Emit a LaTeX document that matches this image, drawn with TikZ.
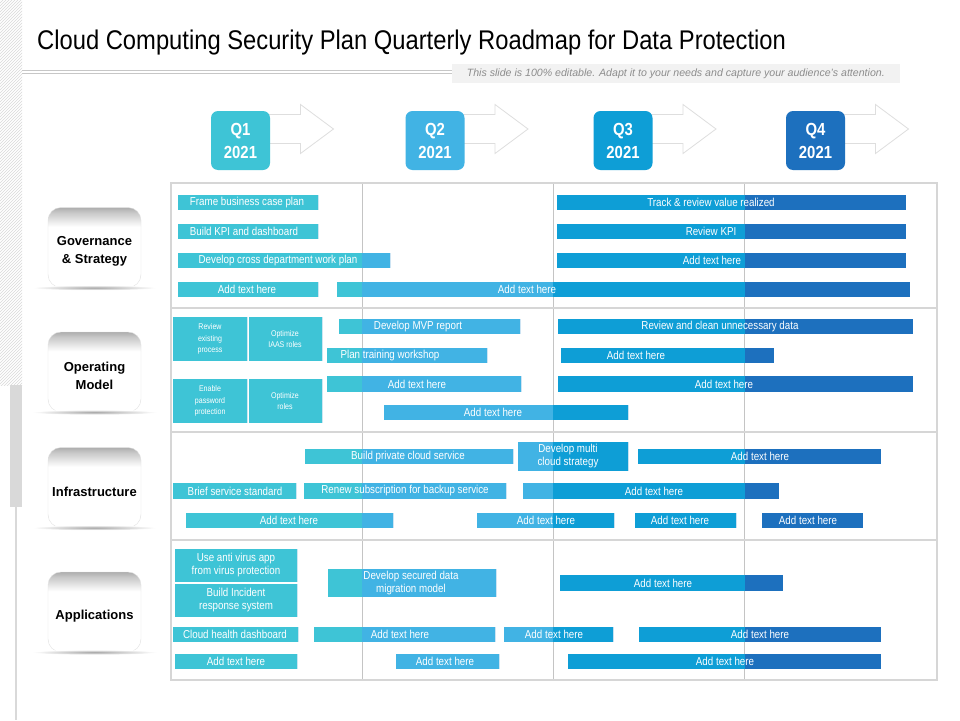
\documentclass[tikz,border=0pt]{standalone}
\usepackage{fontspec}
\setmainfont{Liberation Sans}
\newfontfamily\narrowfont[FakeStretch=0.85]{Liberation Sans}
\newfontfamily\titlefont[FakeStretch=0.88]{Liberation Sans}
\usetikzlibrary{patterns}

\definecolor{qone}{HTML}{3EC4D6}
\definecolor{qtwo}{HTML}{41B3E4}
\definecolor{qthree}{HTML}{0E9ED6}
\definecolor{qfour}{HTML}{1D70BE}
\definecolor{gridgray}{HTML}{D6D6D6}
\definecolor{linegray}{HTML}{C4C4C4}

\pgfdeclareverticalshading{cardshade}{100bp}{color(0bp)=(white); color(25bp)=(white); color(63bp)=(white);
	color(72bp)=(black!22); color(75bp)=(black!32); color(100bp)=(black!32)}

\tikzset{
	bar/.style={rectangle, inner sep=0pt, path picture={
		\fill[qone] (path picture bounding box.south west) rectangle (qb1 |- path picture bounding box.north);
		\fill[qtwo] (qb1 |- path picture bounding box.south) rectangle (qb2 |- path picture bounding box.north);
		\fill[qthree] (qb2 |- path picture bounding box.south) rectangle (qb3 |- path picture bounding box.north);
		\fill[qfour] (qb3 |- path picture bounding box.south) rectangle (path picture bounding box.north east);}},
	bartext/.style={text=white, align=center, inner sep=0pt, font=\narrowfont\fontsize{11.5}{13}\selectfont},
	smalltext/.style={font=\narrowfont\fontsize{8.3}{11.5}\selectfont},
	qbox/.style={rectangle, rounded corners=7pt, minimum size=59pt, inner sep=0pt, text=white, align=center,
		font=\narrowfont\bfseries\fontsize{17.5}{23}\selectfont},
	qarrow/.style={draw=black!13, fill=white, line width=0.8pt},
	card/.style={rectangle, rounded corners=13pt, minimum width=93pt, minimum height=80pt,
		draw=black!12, shading=cardshade},
	cardtext/.style={align=center, inner sep=0pt, font=\bfseries\fontsize{13}{18}\selectfont}
}

\newcommand{\taskbar}[8][]{%
	\node[bar, minimum width={#4-#3}, minimum height={#6-#5}] (#2) at ({(#3+#4)/2},{(#5+#6)/2}) {};
	\node[bartext, #1] (#2-t) at (#7,{(#5+#6)/2}) {#8};}

\begin{document}
\begin{tikzpicture}[x=1pt, y=-1pt]
	\useasboundingbox (0,0) rectangle (960,720);
	\fill[white] (0,0) rectangle (960,720);

	\fill[pattern=north east lines, pattern color=black!15] (0,0) rectangle (22,385);
	\fill[black!15] (10,385) rectangle (22,507);
	\draw[black!15, line width=1.2pt] (16,507) -- (16,720);

	\node[anchor=base west, inner sep=0pt, font=\titlefont\fontsize{27}{30}\selectfont] (title) at (37,49)
		{Cloud Computing Security Plan Quarterly Roadmap for Data Protection};
	\draw[black!22] (22,70) -- (452,70);
	\draw[black!22] (22,73.5) -- (452,73.5);
	\fill[black!5] (452,64) rectangle (900,83);
	\node[anchor=east, inner sep=0pt, text=black!45, font=\itshape\fontsize{10.6}{12}\selectfont] (sub) at (885,73.5)
		{This slide is 100\% editable. Adapt it to your needs and capture your audience's attention.};

	\coordinate (qb1) at (362,0);
	\coordinate (qb2) at (553,0);
	\coordinate (qb3) at (744.5,0);

	\coordinate (q1p) at (240.5,140.5);
	\coordinate (q2p) at (435,140.5);
	\coordinate (q3p) at (623,140.5);
	\coordinate (q4p) at (815.5,140.5);
	\foreach \p in {q1p,q2p,q3p,q4p}
		\draw[qarrow] (\p) ++(0,-26) -- ++(60,0) -- ++(0,-10) -- ++(33,24.5) -- ++(-33,24.5) -- ++(0,-10) -- ++(-60,0) -- cycle;
	\node[qbox, fill=qone] (q1) at (q1p) {Q1\\2021};
	\node[qbox, fill=qtwo] (q2) at (q2p) {Q2\\2021};
	\node[qbox, fill=qthree] (q3) at (q3p) {Q3\\2021};
	\node[qbox, fill=qfour] (q4) at (q4p) {Q4\\2021};

	\draw[linegray, line width=0.8pt] (362,183) -- (362,680);
	\draw[linegray, line width=0.8pt] (553,183) -- (553,680);
	\draw[linegray, line width=0.8pt] (744.5,183) -- (744.5,680);
	\foreach \y in {308,432,540}
		\draw[gridgray, line width=1.2pt] (171,\y) -- (937,\y);
	\draw[gridgray, line width=1.6pt] (171,183) rectangle (937,680);

	\node[card] (gov) at (94.5,247.5) {};
	\node[card] (ops) at (94.5,372) {};
	\node[card] (infra) at (94.5,487.5) {};
	\node[card] (apps) at (94.5,612) {};
	\foreach \c in {gov,ops,infra,apps}
		\shade[inner color=black!35, outer color=white] (\c.south) ellipse (62 and 2.5);
	\node[cardtext] (gov-t) at ([yshift=-4pt]gov.center) {Governance\\\& Strategy};
	\node[cardtext] (ops-t) at ([yshift=-4pt]ops.center) {Operating\\Model};
	\node[cardtext] (infra-t) at ([yshift=-4pt]infra.center) {Infrastructure};
	\node[cardtext] (apps-t) at ([yshift=-4pt]apps.center) {Applications};

	\taskbar{g1}{178}{318}{195}{210}{247}{Frame business case plan}
	\taskbar{g2}{178}{318}{224}{239}{244}{Build KPI and dashboard}
	\taskbar{g3}{178}{390}{253}{268}{278}{Develop cross department work plan}
	\taskbar{g4}{178}{318}{282}{297}{247}{Add text here}
	\taskbar{g5}{337}{910}{282}{297}{527}{Add text here}
	\taskbar{g6}{557}{906}{195}{210}{711}{Track \& review value realized}
	\taskbar{g7}{557}{906}{224}{239}{711}{Review KPI}
	\taskbar{g8}{557}{906}{253}{268}{712}{Add text here}

	\taskbar[smalltext]{o1}{173}{247}{317}{361}{210}{Review\\existing\\process}
	\taskbar[smalltext]{o2}{249}{322}{317}{361}{285}{Optimize\\IAAS roles}
	\taskbar[smalltext]{o3}{173}{247}{379}{423}{210}{Enable\\password\\protection}
	\taskbar[smalltext]{o4}{249}{322}{379}{423}{285}{Optimize\\roles}
	\taskbar{o5}{339}{520}{319}{334}{418}{Develop MVP report}
	\taskbar{o6}{327}{487}{348}{363}{390}{Plan training workshop}
	\taskbar{o7}{327}{521}{376}{392}{417}{Add text here}
	\taskbar{o8}{384}{628}{405}{420}{493}{Add text here}
	\taskbar{o9}{558}{913}{319}{334}{720}{Review and clean unnecessary data}
	\taskbar{o10}{561}{774}{348}{363}{636}{Add text here}
	\taskbar{o11}{558}{913}{376}{392}{724}{Add text here}

	\taskbar{i1}{305}{513}{449}{464}{408}{Build private cloud service}
	\taskbar{i2}{518}{628}{442}{471}{568}{Develop multi\\cloud strategy}
	\taskbar{i3}{638}{881}{449}{464}{760}{Add text here}
	\taskbar{i4}{173}{296}{483}{499}{235}{Brief service standard}
	\taskbar{i5}{304}{506}{483}{499}{405}{Renew subscription for backup service}
	\taskbar{i6}{523}{779}{483}{499}{654}{Add text here}
	\taskbar{i7}{186}{393}{513}{528}{289}{Add text here}
	\taskbar{i8}{477}{614}{513}{528}{546}{Add text here}
	\taskbar{i9}{635}{736}{513}{528}{680}{Add text here}
	\taskbar{i10}{762}{863}{513}{528}{808}{Add text here}

	\taskbar{a1}{175}{297}{549}{582}{236}{Use anti virus app\\from virus protection}
	\taskbar{a2}{175}{297}{584}{617}{236}{Build Incident\\response system}
	\taskbar{a3}{173}{298}{627}{642}{235}{Cloud health dashboard}
	\taskbar{a4}{175}{297}{654}{669}{236}{Add text here}
	\taskbar{a5}{328}{496}{569}{597}{411}{Develop secured data\\migration model}
	\taskbar{a6}{314}{495}{627}{642}{400}{Add text here}
	\taskbar{a7}{396}{499}{654}{669}{445}{Add text here}
	\taskbar{a8}{560}{783}{575}{591}{663}{Add text here}
	\taskbar{a9}{504}{613}{627}{642}{554}{Add text here}
	\taskbar{a10}{639}{881}{627}{642}{760}{Add text here}
	\taskbar{a11}{568}{881}{654}{669}{725}{Add text here}
\end{tikzpicture}
\end{document}
